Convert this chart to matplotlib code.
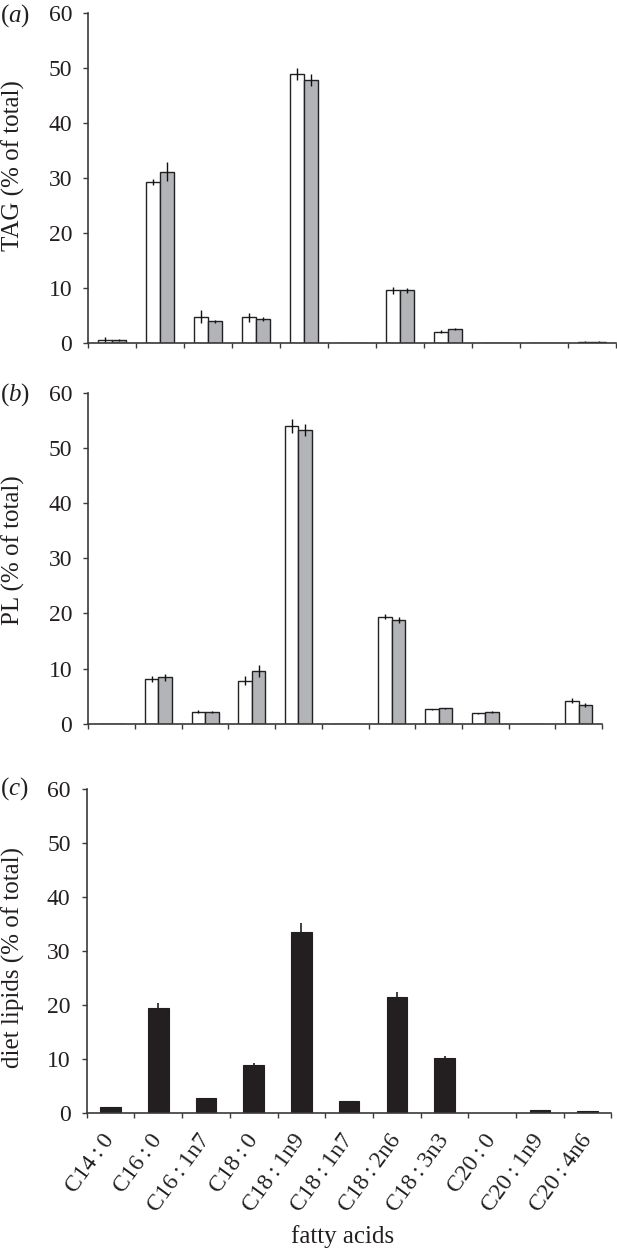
import matplotlib
matplotlib.use("Agg")
import matplotlib.pyplot as plt
import numpy as np

# ---------------- data ----------------
fatty_acids = ["C14\u2009:\u20090", "C16\u2009:\u20090", "C16\u2009:\u20091n7", "C18\u2009:\u20090",
               "C18\u2009:\u20091n9", "C18\u2009:\u20091n7", "C18\u2009:\u20092n6", "C18\u2009:\u20093n3",
               "C20\u2009:\u20090", "C20\u2009:\u20091n9", "C20\u2009:\u20094n6"]

tag_white = [0.5, 29.2, 4.7, 4.6, 48.9, 0.0, 9.5, 2.0, 0.0, 0.0, 0.2]
tag_white_err = [0.5, 0.5, 1.2, 0.8, 1.1, 0.0, 0.7, 0.3, 0.0, 0.0, 0.1]
tag_grey = [0.5, 31.1, 3.9, 4.3, 47.7, 0.0, 9.5, 2.5, 0.0, 0.0, 0.2]
tag_grey_err = [0.2, 1.7, 0.3, 0.3, 1.1, 0.0, 0.4, 0.1, 0.0, 0.0, 0.05]

pl_white = [0.0, 8.1, 2.2, 7.8, 54.0, 0.0, 19.4, 2.6, 1.9, 0.0, 4.2]
pl_white_err = [0.0, 0.5, 0.2, 0.8, 1.3, 0.0, 0.4, 0.15, 0.1, 0.0, 0.5]
pl_grey = [0.0, 8.4, 2.1, 9.5, 53.2, 0.0, 18.8, 2.8, 2.1, 0.0, 3.4]
pl_grey_err = [0.0, 0.6, 0.2, 1.1, 1.1, 0.0, 0.5, 0.1, 0.2, 0.0, 0.3]

diet = [1.05, 19.4, 2.7, 8.8, 33.6, 2.15, 21.5, 10.1, 0.0, 0.6, 0.35]
diet_err = [0.0, 0.9, 0.0, 0.4, 1.5, 0.0, 1.0, 0.4, 0.0, 0.0, 0.0]

yticks = [0, 10, 20, 30, 40, 50, 60]
ylabels = ["TAG (% of total)", "PL (% of total)", "diet lipids (% of total)"]
panel_tags = ["a", "b", "c"]
xlabel = "fatty acids"

# ---------------- style ----------------
plt.rcParams["font.family"] = ["Liberation Serif", "DejaVu Serif"]
plt.rcParams["mathtext.fontset"] = "custom"
plt.rcParams["mathtext.rm"] = "Liberation Serif"
plt.rcParams["mathtext.it"] = "Liberation Serif:italic"

W, H = 617, 1249
DPI = 100
fig = plt.figure(figsize=(W / DPI, H / DPI), dpi=DPI)

AX_COL = "#3a3a3a"
TXT_COL = "#231f20"
GREY = "#b3b4b8"
BLACK_BAR = "#231f20"


def px_axes(left, right, top, bottom):
    return fig.add_axes([left / W, 1 - bottom / H, (right - left) / W, (bottom - top) / H])


axes = [
    px_axes(88.3, 616.0, 12.7, 342.7),
    px_axes(88.3, 602.0, 392.7, 723.7),
    px_axes(86.7, 611.5, 789.0, 1113.0),
]

x = np.arange(len(fatty_acids))
bw = 0.29


def style_axis(ax, show_labels):
    for s in ["top", "right"]:
        ax.spines[s].set_visible(False)
    for s in ["left", "bottom"]:
        ax.spines[s].set_color(AX_COL)
        ax.spines[s].set_linewidth(1.2)
    ax.set_xlim(-0.5, len(fatty_acids) - 0.5)
    ax.set_ylim(0, 60)
    ax.set_yticks(yticks)
    ax.tick_params(axis="y", direction="out", length=3.6, width=1.0, color=AX_COL,
                   labelsize=17, labelcolor=TXT_COL, pad=8)
    ax.set_xticks(np.arange(-0.5, len(fatty_acids), 1.0), minor=True)
    ax.tick_params(axis="x", which="minor", direction="out", length=3.8, width=1.0, color=AX_COL)
    ax.set_xticks(x)
    ax.tick_params(axis="x", which="major", length=0, pad=17, labelsize=17, labelcolor=TXT_COL)
    if show_labels:
        ax.set_xticklabels(fatty_acids, rotation=54, ha="right", va="center",
                           rotation_mode="anchor")
    else:
        ax.set_xticklabels([])


err_kw = dict(ecolor="#111111", elinewidth=1.0, capsize=0)

# panel a
ax = axes[0]
ax.bar(x - bw / 2, tag_white, bw, color="white", edgecolor="#222222", linewidth=1.0,
       yerr=tag_white_err, error_kw=err_kw, zorder=2)
ax.bar(x + bw / 2, tag_grey, bw, color=GREY, edgecolor="#222222", linewidth=1.0,
       yerr=tag_grey_err, error_kw=err_kw, zorder=2)
style_axis(ax, False)

# panel b
ax = axes[1]
ax.bar(x - bw / 2, pl_white, bw, color="white", edgecolor="#222222", linewidth=1.0,
       yerr=pl_white_err, error_kw=err_kw, zorder=2)
ax.bar(x + bw / 2, pl_grey, bw, color=GREY, edgecolor="#222222", linewidth=1.0,
       yerr=pl_grey_err, error_kw=err_kw, zorder=2)
style_axis(ax, False)

# panel c
ax = axes[2]
ax.bar(x, diet, 0.43, color=BLACK_BAR, edgecolor=BLACK_BAR, linewidth=0.8, zorder=2)
ax.errorbar(x, diet, yerr=[np.zeros(len(diet)), diet_err], fmt="none",
            ecolor=BLACK_BAR, elinewidth=1.2, capsize=0, zorder=3)
style_axis(ax, True)

# y labels (placed in pixel coordinates)
ylab_centers = [166, 550, 957]
for lab, yc in zip(ylabels, ylab_centers):
    fig.text(13 / W, 1 - yc / H, lab, rotation=90, ha="center", va="center",
             fontsize=18, color=TXT_COL)

# panel tags
tag_pos = [16, 395, 789]
for t, yc in zip(panel_tags, tag_pos):
    fig.text(0.5 / W, 1 - yc / H, r"($\mathit{" + t + r"}$)", ha="left", va="center",
             fontsize=18, color=TXT_COL)

fig.text(343 / W, 1 - 1237 / H, xlabel, ha="center", va="center", fontsize=18, color=TXT_COL)

fig.savefig("out.png", dpi=DPI)
